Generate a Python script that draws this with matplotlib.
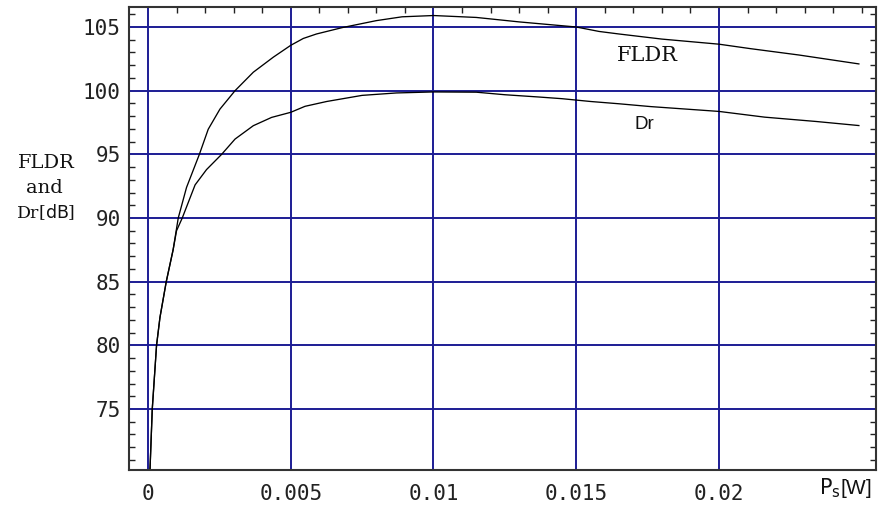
import matplotlib
matplotlib.use("Agg")
import matplotlib.pyplot as plt
from matplotlib.ticker import MultipleLocator, FixedLocator

plt.rcParams["mathtext.fontset"] = "dejavuserif"

# Data
fldr_x = [0.00007, 0.00015, 0.0003, 0.00042, 0.00064, 0.00088, 0.00106, 0.00135, 0.0018,
          0.00211, 0.00252, 0.00305, 0.00369, 0.00439, 0.005, 0.00544, 0.0059, 0.0068,
          0.008, 0.0089, 0.01, 0.0115, 0.013, 0.0145, 0.015, 0.0158, 0.0165, 0.018, 0.02,
          0.0211, 0.0228, 0.0246, 0.0249]
fldr_y = [70.2, 75.0, 80.0, 82.2, 85.0, 87.5, 90.0, 92.4, 95.0,
          96.97, 98.55, 100.0, 101.45, 102.63, 103.56, 104.1, 104.45, 104.95,
          105.5, 105.8, 105.9, 105.75, 105.4, 105.1, 105.0, 104.65, 104.45, 104.05, 103.65,
          103.3, 102.8, 102.2, 102.1]

dr_x = [0.00007, 0.00015, 0.0003, 0.00042, 0.00064, 0.00088, 0.001, 0.0012, 0.00165,
        0.00205, 0.00258, 0.00305, 0.00369, 0.00433, 0.005, 0.0055, 0.00626, 0.0075,
        0.0087, 0.01, 0.0115, 0.0125, 0.0137, 0.0145, 0.0155, 0.0165, 0.0176, 0.02,
        0.0216, 0.0234, 0.0249]
dr_y = [70.2, 75.0, 80.0, 82.2, 85.0, 87.5, 89.0, 90.0, 92.6,
        93.8, 95.0, 96.2, 97.25, 97.9, 98.3, 98.77, 99.15, 99.63,
        99.82, 99.9, 99.88, 99.68, 99.5, 99.37, 99.15, 98.97, 98.75, 98.37,
        97.92, 97.58, 97.26]

x_ticks = [0, 0.005, 0.01, 0.015, 0.02]
x_tick_labels = ["0", "0.005", "0.01", "0.015", "0.02"]
y_ticks = [75, 80, 85, 90, 95, 100, 105]
y_tick_labels = ["75", "80", "85", "90", "95", "100", "105"]

fig = plt.figure(figsize=(8.82, 5.15), dpi=100)
ax = fig.add_axes([129/882, 45/515, 747/882, 463/515])

navy = "#1c1c94"
ax.grid(True, which="major", color=navy, lw=1.4)
ax.set_axisbelow(True)

ax.plot(fldr_x, fldr_y, color="black", lw=0.95)
ax.plot(dr_x, dr_y, color="black", lw=0.95)

ax.set_xlim(-0.000665, 0.0255)
ax.set_ylim(70.21, 106.57)

ax.xaxis.set_major_locator(FixedLocator(x_ticks))
ax.set_xticklabels(x_tick_labels, fontfamily="DejaVu Sans Mono", fontsize=15, color="#222222")
ax.yaxis.set_major_locator(FixedLocator(y_ticks))
ax.set_yticklabels(y_tick_labels, fontfamily="DejaVu Sans Mono", fontsize=15, color="#222222")
ax.xaxis.set_minor_locator(MultipleLocator(0.001))
ax.yaxis.set_minor_locator(MultipleLocator(1))

ax.tick_params(which="major", length=0, pad=10, axis="x")
ax.tick_params(which="major", length=0, pad=6, axis="y")
ax.tick_params(which="minor", direction="in", length=4, width=1.0, color="#222222",
               top=True, bottom=False, left=True, right=True)

for s in ax.spines.values():
    s.set_color("#333333")
    s.set_linewidth(1.5)

ax.text(0.01748, 102.8, "FLDR", fontfamily="DejaVu Serif", fontsize=15,
        ha="center", va="center", color="#111111")
ax.text(0.01737, 97.33, "Dr", fontfamily="Liberation Sans", fontsize=13.5,
        ha="center", va="center", color="#111111")

# y label (three lines)
fig.text(46/882, 1 - 163/515, "FLDR", fontfamily="DejaVu Serif", fontsize=14,
         ha="center", va="center", color="#111111")
fig.text(44/882, 1 - 188/515, "and", fontfamily="DejaVu Serif", fontsize=14,
         ha="center", va="center", color="#111111")
fig.text(46/882, 1 - 212/515, r"Dr[$\mathsf{dB}$]", fontfamily="DejaVu Serif", fontsize=12.5,
         ha="center", va="center", color="#111111")

# x label
fig.text(845/882, 1 - 488/515, r"$\mathsf{P_s}$[W]", fontfamily="Liberation Sans",
         fontsize=15, ha="center", va="center", color="#111111")

fig.savefig("out.png", dpi=100)
